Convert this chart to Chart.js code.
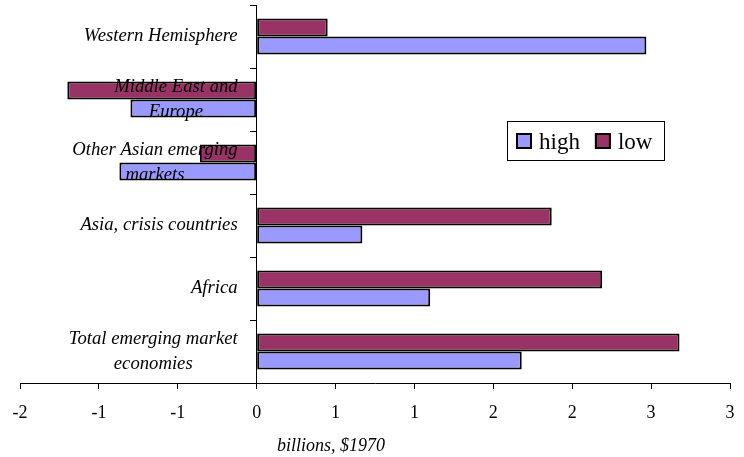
<!DOCTYPE html>
<html>
<head>
<meta charset="utf-8">
<script src="https://cdn.jsdelivr.net/npm/chart.js@4.4.1/dist/chart.umd.min.js"></script>
<style>
    body { margin: 0; background: #ffffff; }
    #wrap { width: 744px; height: 457px; }
</style>
</head>
<body>
<div id="wrap"><canvas id="regionChart" width="744" height="457"></canvas></div>
<script>
var categories = [
    'Western Hemisphere',
    ['Middle East and', 'Europe'],
    ['Other Asian emerging', 'markets'],
    'Asia, crisis countries',
    'Africa',
    ['Total emerging market', 'economies']
];
var highValues = [2.47, -0.80, -0.87, 0.67, 1.10, 1.68];
var lowValues = [0.45, -1.20, -0.36, 1.87, 2.19, 2.68];
var xTickLabels = ['-2', '-1', '-1', '0', '1', '1', '2', '2', '3', '3'];
var xTitle = 'billions, $1970';

var SERIF = "'Liberation Serif', 'Times New Roman', serif";

// category labels: right-aligned block left of the zero axis, lines centred inside it
var centreLabels = {
    id: 'centreLabels',
    beforeDraw: function(chart) {
        var scale = chart.scales.y;
        var gap = scale.options.grid.tickLength + scale.options.ticks.padding;
        var items = scale.getLabelItems();
        var ctx = chart.ctx;
        ctx.save();
        items.forEach(function(item) {
            if (item._centred) return;
            ctx.font = item.font.string;
            var lines = Array.isArray(item.label) ? item.label : [item.label];
            var w = 0;
            lines.forEach(function(l) { w = Math.max(w, ctx.measureText(l).width); });
            item.options.textAlign = 'center';
            item.options.translation[0] -= w / 2 + gap;
            item._centred = true;
        });
        ctx.restore();
    }
};

var extras = {
    id: 'extras',
    afterDraw: function(chart) {
        var ctx = chart.ctx;
        var area = chart.chartArea;
        ctx.save();

        // axis title
        ctx.fillStyle = '#000';
        ctx.font = 'italic 18px ' + SERIF;
        ctx.textAlign = 'center';
        ctx.textBaseline = 'alphabetic';
        ctx.fillText(xTitle, area.left + (area.right - area.left) * 0.438, 451);

        // legend
        var bx = 507, by = 121, bw = 157, bh = 39;
        ctx.fillStyle = '#fff';
        ctx.fillRect(bx, by, bw, bh);
        ctx.strokeStyle = '#000';
        ctx.lineWidth = 1;
        ctx.strokeRect(bx + 0.5, by + 0.5, bw, bh);

        ctx.font = '23px ' + SERIF;
        ctx.textAlign = 'left';
        var order = [1, 0];
        var x = bx + 9;
        order.forEach(function(i) {
            var ds = chart.data.datasets[i];
            ctx.fillStyle = ds.backgroundColor;
            ctx.fillRect(x, by + 12, 16, 16);
            ctx.lineWidth = 2;
            ctx.strokeStyle = '#000';
            ctx.strokeRect(x + 1, by + 13, 14, 14);
            ctx.fillStyle = '#000';
            ctx.fillText(ds.label, x + 23, by + 28);
            x += 23 + ctx.measureText(ds.label).width + 15;
        });
        ctx.restore();
    }
};

function noPadding(scale) {
    scale.paddingTop = 0;
    scale.paddingBottom = 0;
    scale.paddingLeft = 0;
    scale.paddingRight = 0;
}

new Chart(document.getElementById('regionChart').getContext('2d'), {
    type: 'bar',
    data: {
        labels: categories,
        datasets: [
            {
                label: 'low',
                data: lowValues,
                backgroundColor: '#993366',
                borderColor: '#000000',
                borderWidth: 2,
                borderSkipped: false,
                categoryPercentage: 0.57,
                barPercentage: 1.0
            },
            {
                label: 'high',
                data: highValues,
                backgroundColor: '#9999FF',
                borderColor: '#000000',
                borderWidth: 2,
                borderSkipped: false,
                categoryPercentage: 0.57,
                barPercentage: 1.0
            }
        ]
    },
    options: {
        indexAxis: 'y',
        responsive: false,
        animation: false,
        devicePixelRatio: 1,
        layout: { padding: { left: 20, right: 14, top: 5, bottom: 0 } },
        plugins: {
            legend: { display: false },
            tooltip: { enabled: false }
        },
        scales: {
            x: {
                min: -1.5,
                max: 3,
                afterFit: function(scale) {
                    noPadding(scale);
                    scale.height = 74;
                },
                ticks: {
                    stepSize: 0.5,
                    color: '#000',
                    padding: 13,
                    font: { family: SERIF, size: 18 },
                    callback: function(value, index) { return xTickLabels[index]; }
                },
                grid: {
                    drawOnChartArea: false,
                    drawTicks: true,
                    tickLength: 6,
                    color: '#000'
                },
                border: { color: '#000', width: 1 }
            },
            y: {
                position: { x: 0 },
                afterFit: noPadding,
                ticks: {
                    z: 1,
                    color: '#000',
                    padding: 13,
                    font: { family: SERIF, size: 18.7, style: 'italic', lineHeight: 1.34 }
                },
                grid: {
                    drawOnChartArea: false,
                    drawTicks: true,
                    tickLength: 6,
                    color: '#000'
                },
                border: { color: '#000', width: 1 }
            }
        }
    },
    plugins: [centreLabels, extras]
});
</script>
</body>
</html>
